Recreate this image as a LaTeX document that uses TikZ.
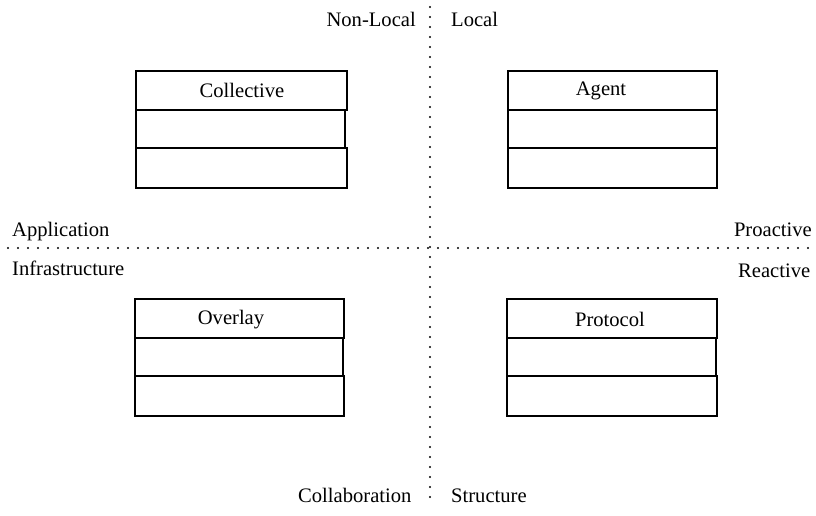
\documentclass[tikz,border=0pt]{standalone}
\usepackage{fontspec}
\setmainfont{Liberation Serif}
\begin{document}
\begin{tikzpicture}[x=1pt,y=-1pt,font=\fontsize{20.6}{24}\selectfont]
\tikzset{
  comp/.style={draw, line width=1.9pt, inner sep=0pt, outer sep=0pt, anchor=north west},
  dots/.style={line width=2.2pt, line cap=round, dash pattern=on 0pt off 10pt},
  lbl/.style={inner sep=0pt}
}
\useasboundingbox (0,0) rectangle (816,515);
% axes
\coordinate (vt) at (430,7);
\coordinate (vb) at (430,500);
\coordinate (hl) at (8,248);
\coordinate (hr) at (812,248);
\draw[dots] (vt) -- (vb);
\draw[dots] (hl) -- (hr);
% Collective
\node[comp, minimum width=211pt, minimum height=39pt] (colT) at (136,71) {};
\node[comp, minimum width=209pt, minimum height=38pt] (colM) at (colT.south west) {};
\node[comp, minimum width=211pt, minimum height=40pt] (colB) at (colM.south west) {};
\node[lbl, anchor=base] (colL) at (242,97) {Collective};
% Agent
\node[comp, minimum width=209pt, minimum height=39pt] (agT) at (508,71) {};
\node[comp, minimum width=209pt, minimum height=38pt] (agM) at (agT.south west) {};
\node[comp, minimum width=209pt, minimum height=40pt] (agB) at (agM.south west) {};
\node[lbl, anchor=base] (agL) at (601,95) {Agent};
% Overlay
\node[comp, minimum width=209pt, minimum height=39pt] (ovT) at (135,299) {};
\node[comp, minimum width=208pt, minimum height=38pt] (ovM) at (ovT.south west) {};
\node[comp, minimum width=209pt, minimum height=40pt] (ovB) at (ovM.south west) {};
\node[lbl, anchor=base] (ovL) at (231,324) {Overlay};
% Protocol
\node[comp, minimum width=210pt, minimum height=39pt] (prT) at (507,299) {};
\node[comp, minimum width=209pt, minimum height=38pt] (prM) at (prT.south west) {};
\node[comp, minimum width=210pt, minimum height=40pt] (prB) at (prM.south west) {};
\node[lbl, anchor=base] (prL) at (610,326) {Protocol};
% axis labels
\node[lbl, anchor=base east] (nonlocal) at (416,26) {Non-Local};
\node[lbl, anchor=base west] (local) at (451,26) {Local};
\node[lbl, anchor=base west] (app) at (12,236) {Application};
\node[lbl, anchor=base west] (infra) at (12,275) {Infrastructure};
\node[lbl, anchor=base east] (pro) at (812,236) {Proactive};
\node[lbl, anchor=base west] (rea) at (738,277) {Reactive};
\node[lbl, anchor=base west] (collab) at (298,502) {Collaboration};
\node[lbl, anchor=base west] (struct) at (451,502) {Structure};
\end{tikzpicture}
\end{document}
